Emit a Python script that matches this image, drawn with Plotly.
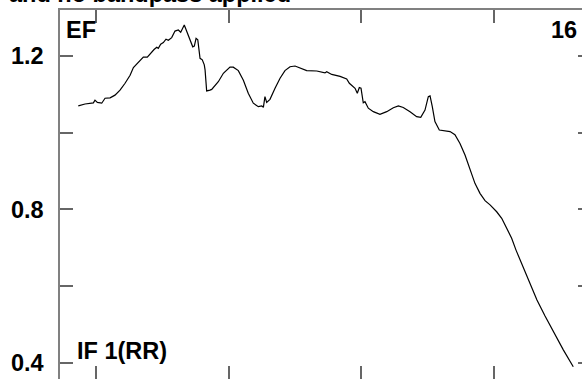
import plotly.graph_objects as go

# spectrum (x in tick units, y = EF)
x_vals = [0.866, 0.917, 0.980, 0.992, 1.010, 1.043, 1.068, 1.106, 1.143, 1.181,
          1.219, 1.257, 1.282, 1.319, 1.357, 1.387, 1.420, 1.438, 1.458, 1.470,
          1.488, 1.508, 1.528, 1.546, 1.571, 1.596, 1.621, 1.639, 1.666, 1.685,
          1.709, 1.730, 1.742, 1.755, 1.768, 1.785, 1.802, 1.817, 1.823, 1.835,
          1.860, 1.873, 1.923, 1.961, 2.011, 2.036, 2.074, 2.112, 2.149, 2.187,
          2.225, 2.251, 2.263, 2.275, 2.288, 2.313, 2.351, 2.389, 2.426, 2.464,
          2.502, 2.540, 2.590, 2.666, 2.728, 2.741, 2.779, 2.842, 2.892, 2.912,
          2.955, 2.972, 2.987, 3.000, 3.017, 3.030, 3.055, 3.093, 3.143, 3.194,
          3.244, 3.282, 3.319, 3.370, 3.420, 3.451, 3.483, 3.508, 3.521, 3.538,
          3.558, 3.591, 3.634, 3.672, 3.709, 3.747, 3.785, 3.823, 3.860, 3.898,
          3.936, 3.974, 4.024, 4.062, 4.100, 4.137, 4.170, 4.208, 4.245, 4.283,
          4.328, 4.389, 4.451, 4.527, 4.602]
ef_vals = [1.070, 1.075, 1.078, 1.085, 1.079, 1.077, 1.090, 1.091, 1.098, 1.111,
           1.129, 1.150, 1.170, 1.183, 1.197, 1.197, 1.211, 1.217, 1.223, 1.220,
           1.231, 1.235, 1.244, 1.241, 1.248, 1.265, 1.268, 1.262, 1.281, 1.263,
           1.242, 1.224, 1.226, 1.246, 1.242, 1.194, 1.190, 1.177, 1.164, 1.109,
           1.111, 1.113, 1.133, 1.155, 1.171, 1.171, 1.162, 1.137, 1.103, 1.077,
           1.068, 1.070, 1.066, 1.094, 1.079, 1.087, 1.116, 1.142, 1.162, 1.172,
           1.174, 1.168, 1.162, 1.161, 1.156, 1.159, 1.152, 1.147, 1.140, 1.129,
           1.116, 1.103, 1.118, 1.116, 1.078, 1.081, 1.064, 1.055, 1.048, 1.055,
           1.065, 1.070, 1.066, 1.055, 1.042, 1.040, 1.059, 1.094, 1.096, 1.068,
           1.029, 1.007, 1.005, 1.003, 0.995, 0.972, 0.942, 0.903, 0.868, 0.842,
           0.823, 0.812, 0.794, 0.777, 0.751, 0.725, 0.694, 0.663, 0.632, 0.598,
           0.564, 0.522, 0.482, 0.434, 0.390]

x_ticks = [1, 2, 3, 4]
y_ticks = [0.4, 0.6, 0.8, 1.0, 1.2]
y_labels = ['0.4', '', '0.8', '', '1.2']
x_range = [0.728, 4.668]
y_range = [0.358, 1.320]

font = dict(family='Liberation Sans, Arial, sans-serif', size=23.5,
            color='black', weight='bold')

fig = go.Figure()
fig.add_trace(go.Scatter(x=x_vals, y=ef_vals, mode='lines',
                         line=dict(color='black', width=1.2),
                         hoverinfo='skip', showlegend=False))
# invisible copy so the overlay axes get drawn
fig.add_trace(go.Scatter(x=x_vals, y=ef_vals, mode='lines', xaxis='x2',
                         yaxis='y2', line=dict(width=0), opacity=0,
                         hoverinfo='skip', showlegend=False))

axis_common = dict(showgrid=False, zeroline=False, ticks='inside',
                   tickcolor='#666666', tickwidth=1.5)
fig.update_layout(
    width=582, height=379,
    margin=dict(l=60, r=0, t=10, b=0),
    plot_bgcolor='white', paper_bgcolor='white',
    xaxis=dict(range=x_range, tickvals=x_ticks, showticklabels=False,
               showline=False, ticklen=13, **axis_common),
    xaxis2=dict(range=x_range, tickvals=x_ticks, showticklabels=False,
                overlaying='x', side='top', showline=True,
                linecolor='#808080', linewidth=1.5, ticklen=13, **axis_common),
    yaxis=dict(range=y_range, tickvals=y_ticks, ticktext=y_labels,
               showline=True, linecolor='#808080', linewidth=1.5,
               ticklen=13, tickfont=font, ticklabelstandoff=10,
               **axis_common),
    yaxis2=dict(range=y_range, tickvals=y_ticks, showticklabels=False,
                overlaying='y', side='right', showline=False, ticklen=4,
                **axis_common),
    annotations=[
        dict(text='and no bandpass applied', xref='paper', yref='paper',
             x=-0.1015, y=1.003, xanchor='left', yanchor='bottom',
             showarrow=False, font=font),
        dict(text='EF', xref='paper', yref='paper', x=0.008, y=0.987,
             xanchor='left', yanchor='top', showarrow=False, font=font),
        dict(text='16', xref='paper', yref='paper', x=0.994, y=0.987,
             xanchor='right', yanchor='top', showarrow=False, font=font),
        dict(text='IF 1(RR)', xref='paper', yref='paper', x=0.0287, y=0.035,
             xanchor='left', yanchor='bottom', showarrow=False, font=font),
    ],
)

fig.write_html('out.html', config={'displayModeBar': False},
               post_script="document.body.style.margin='0';"
                           "document.body.style.overflow='hidden';")
